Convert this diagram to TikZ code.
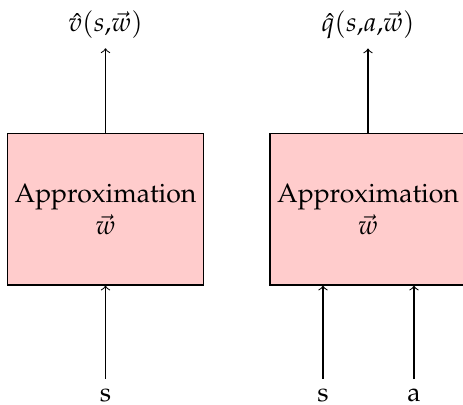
\documentclass[tikz,border=0pt]{standalone}
\usepackage[T1]{fontenc}
\usepackage{mathpazo}
\usepackage{tikz}
\usetikzlibrary{positioning}

\begin{document}
\begin{tikzpicture}[x=0.376pt, y=0.376pt,
    approx/.style={draw, fill=red!20, inner xsep=1pt, minimum width=73.7pt, minimum height=56.8pt, align=center}]
    \useasboundingbox (0,0) rectangle (463,405);

    % value function
    \node[approx] (vbox) at (105.5,195.5) {Approximation\\$\vec{w}$};
    \node (vout) at (105.5,380) {$\hat{v}(s{,}\vec{w})$};
    \node (vs) at (105.5,10) {s};
    \draw[->] (vbox) -- (vout);
    \draw[->] (vs) -- (vbox);

    % action-value function
    \node[approx] (qbox) at (368,195.5) {Approximation\\$\vec{w}$};
    \node (qout) at (368,380) {$\hat{q}(s{,}a{,}\vec{w})$};
    \node (qs) at (323,10) {s};
    \node (qa) at (414,10) {a};
    \draw[->] (qbox) -- (qout);
    \draw[->] (qs) -- (qs |- qbox.south);
    \draw[->] (qa) -- (qa |- qbox.south);
\end{tikzpicture}
\end{document}
